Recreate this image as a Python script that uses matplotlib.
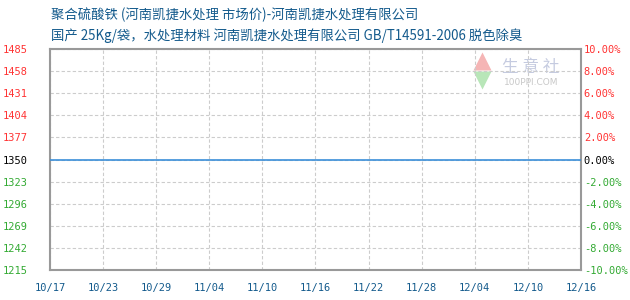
import matplotlib
matplotlib.use("Agg")
import matplotlib.pyplot as plt
import datetime as dt

plt.rcParams['font.family'] = ['Noto Sans CJK SC', 'DejaVu Sans']

title1 = "聚合硫酸铁 (河南凯捷水处理 市场价)-河南凯捷水处理有限公司"
title2 = "国产 25Kg/袋，水处理材料 河南凯捷水处理有限公司 GB/T14591-2006 脱色除臭"
dates = ["2024-10-17", "2024-12-16"]
prices = [1350, 1350]
left_ticks = [1215, 1242, 1269, 1296, 1323, 1350, 1377, 1404, 1431, 1458, 1485]
right_ticks = [-10, -8, -6, -4, -2, 0, 2, 4, 6, 8, 10]
x_tick_labels = ["10/17", "10/23", "10/29", "11/04", "11/10", "11/16",
                 "11/22", "11/28", "12/04", "12/10", "12/16"]

base = 1350
red = "#ff3333"
green = "#33aa33"
blue_txt = "#135a8c"

fig = plt.figure(figsize=(6.3, 3.0), dpi=100)
ax = fig.add_axes([50/630, 1-270/300, 531/630, 221/300])

xd = [dt.datetime.strptime(d, "%Y-%m-%d") for d in dates]
ax.plot(xd, prices, color="#3b8fd9", lw=1.2, zorder=3)

start = xd[0]
ticks_x = [start + dt.timedelta(days=6*i) for i in range(len(x_tick_labels))]
ax.set_xlim(ticks_x[0], ticks_x[-1])
ax.set_xticks(ticks_x)
ax.set_xticklabels(x_tick_labels)
ax.set_ylim(left_ticks[0], left_ticks[-1])
ax.set_yticks(left_ticks)
ax.set_yticklabels([str(t) for t in left_ticks])
for lab, t in zip(ax.get_yticklabels(), left_ticks):
    lab.set_color(red if t > base else (green if t < base else "black"))

mono = "DejaVu Sans Mono"
ax.tick_params(axis='both', length=0, labelsize=7.5)
for lab in ax.get_yticklabels():
    lab.set_fontfamily(mono)
for lab in ax.get_xticklabels():
    lab.set_fontfamily(mono)
    lab.set_color(blue_txt)
ax.tick_params(axis='y', pad=16)
ax.tick_params(axis='x', pad=9)

ax.grid(True, color="#cccccc", linestyle=(0, (3, 2)), lw=0.8)
for s in ax.spines.values():
    s.set_color("#999999")
    s.set_linewidth(1.5)

ax2 = ax.twinx()
ax2.set_ylim(right_ticks[0], right_ticks[-1])
ax2.set_yticks(right_ticks)
ax2.set_yticklabels([f"{t:.2f}%" for t in right_ticks])
ax2.tick_params(axis='y', length=0, labelsize=7.5, pad=2)
for lab, t in zip(ax2.get_yticklabels(), right_ticks):
    lab.set_fontfamily(mono)
    lab.set_color(red if t > 0 else (green if t < 0 else "black"))
for s in ax2.spines.values():
    s.set_visible(False)

# watermark
ax.text(0.906, 0.918, "生 意 社", transform=ax.transAxes, fontsize=12,
        color="#c5cbe0", ha="center", va="center", zorder=1)
ax.text(0.906, 0.85, "100PPI.COM", transform=ax.transAxes, fontsize=6.5,
        color="#c8c8c8", ha="center", va="center", family="DejaVu Sans", zorder=1)
ax.plot([0.813], [0.945], marker="^", ms=13, color="#f5b5b5", mec="none",
        transform=ax.transAxes, zorder=1)
ax.plot([0.813], [0.86], marker="v", ms=13, color="#b8e6b8", mec="none",
        transform=ax.transAxes, zorder=1)

fig.text(51/630, 1-15/300, title1, fontsize=9.6, color=blue_txt, va="center", ha="left")
fig.text(51/630, 1-36/300, title2, fontsize=9.6, color=blue_txt, va="center", ha="left")

fig.savefig("out.png", dpi=100)
